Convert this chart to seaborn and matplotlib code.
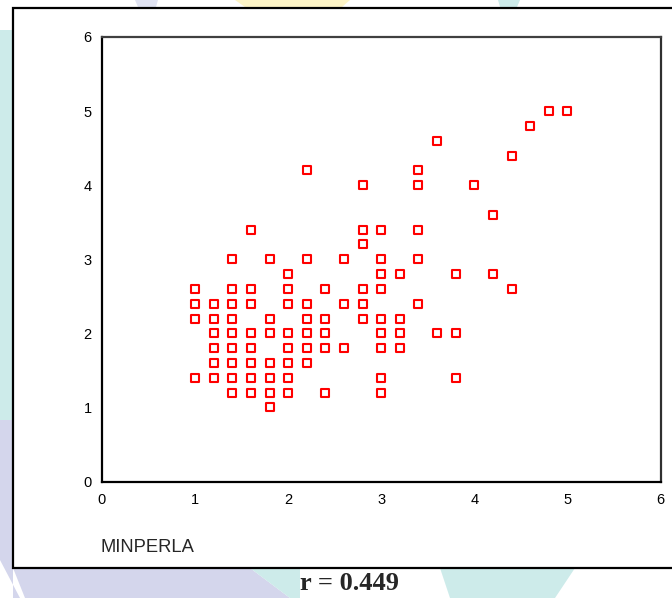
import matplotlib
matplotlib.use("Agg")
import matplotlib.pyplot as plt
import seaborn as sns
import pandas as pd
from matplotlib.patches import Rectangle, Polygon

# scatter values, one list of MINPERLA values per y level
y_levels = [5.0, 4.8, 4.6, 4.4, 4.2, 4.0, 3.6, 3.4, 3.2, 3.0,
            2.8, 2.6, 2.4, 2.2, 2.0, 1.8, 1.6, 1.4, 1.2, 1.0]
x_at_level = [
    [4.8, 5.0],
    [4.6],
    [3.6],
    [4.4],
    [2.2, 3.4],
    [2.8, 3.4, 4.0],
    [4.2],
    [1.6, 2.8, 3.0, 3.4],
    [2.8],
    [1.4, 1.8, 2.2, 2.6, 3.0, 3.4],
    [2.0, 3.0, 3.2, 3.8, 4.2],
    [1.0, 1.4, 1.6, 2.0, 2.4, 2.8, 3.0, 4.4],
    [1.0, 1.2, 1.4, 1.6, 2.0, 2.2, 2.6, 2.8, 3.4],
    [1.0, 1.2, 1.4, 1.8, 2.2, 2.4, 2.8, 3.0, 3.2],
    [1.2, 1.4, 1.6, 1.8, 2.0, 2.2, 2.4, 3.0, 3.2, 3.6, 3.8],
    [1.2, 1.4, 1.6, 2.0, 2.2, 2.4, 2.6, 3.0, 3.2],
    [1.2, 1.4, 1.6, 1.8, 2.0, 2.2],
    [1.0, 1.2, 1.4, 1.6, 1.8, 2.0, 3.0, 3.8],
    [1.4, 1.6, 1.8, 2.0, 2.4, 3.0],
    [1.8],
]
ticks = [0, 1, 2, 3, 4, 5, 6]
x_label = "MINPERLA"
r_text = "r = 0.449"

rows = [(x, y) for y, xs in zip(y_levels, x_at_level) for x in xs]
df = pd.DataFrame(rows, columns=["MINPERLA", "y"])

sns.set_style("white")
plt.rcParams["font.family"] = ["Liberation Sans", "DejaVu Sans"]

W, H = 672, 598
fig = plt.figure(figsize=(W / 100, H / 100), dpi=100)

# faint watermark shapes behind everything
def px_poly(pts, color):
    fig.patches.append(Polygon([(x / W, 1 - y / H) for x, y in pts], closed=True,
                               transform=fig.transFigure, facecolor=color,
                               edgecolor="none", zorder=-5))

cyan = "#cdebea"
lav = "#d4d6ec"
px_poly([(235, 0), (350, 0), (342, 7), (245, 7)], "#fdf4c6")
px_poly([(498, 0), (520, 0), (517, 7), (500, 7)], cyan)
px_poly([(135, 0), (158, 0), (156, 7), (138, 7)], "#e0e3f2")
px_poly([(0, 30), (13, 30), (13, 420), (0, 420)], cyan)
px_poly([(0, 420), (13, 420), (13, 598), (20, 598), (0, 560)], lav)
px_poly([(13, 568), (250, 568), (290, 598), (25, 598)], lav)
px_poly([(250, 568), (300, 568), (300, 598), (290, 598)], cyan)
px_poly([(440, 568), (575, 568), (555, 598), (450, 598)], cyan)

# outer frame
fig.patches.append(Rectangle((13 / W, 1 - 568 / H), 1.2, (568 - 7.5) / H,
                             transform=fig.transFigure, facecolor="white",
                             edgecolor="black", linewidth=1.6, zorder=-1))

ax = fig.add_axes([102 / W, 1 - 481.5 / H, (660.5 - 102) / W, (481.5 - 37) / H])
ax.set_facecolor("white")

sns.scatterplot(data=df, x="MINPERLA", y="y", marker="s", s=30,
                facecolor="white", edgecolor="red", linewidth=1.5,
                ax=ax, zorder=3, clip_on=False)

ax.set_xlim(0, 6)
ax.set_ylim(0, 6)
ax.set_xticks(ticks)
ax.set_yticks(ticks)
ax.set_xticklabels([str(t) for t in ticks])
ax.set_yticklabels([str(t) for t in ticks])
ax.tick_params(axis="both", direction="out", length=2.4, width=2.4,
               color="black", labelsize=10.5, labelcolor="black")
ax.tick_params(axis="x", pad=6)
ax.tick_params(axis="y", pad=5)
ax.set_xlabel("")
ax.set_ylabel("")

for side, col in [("left", "black"), ("bottom", "black"),
                  ("top", "#404040"), ("right", "#303030")]:
    ax.spines[side].set_visible(True)
    ax.spines[side].set_color(col)
    ax.spines[side].set_linewidth(1.6)

fig.text(101 / W, 1 - 547 / H, x_label, fontsize=13.2, va="center", ha="left",
         family=["Liberation Sans", "DejaVu Sans"])
fig.text(349 / W, 1 - 583 / H, r_text, fontsize=19, fontweight="bold",
         va="center", ha="center", family=["Liberation Serif", "DejaVu Serif"])

fig.savefig("out.png", dpi=100)
